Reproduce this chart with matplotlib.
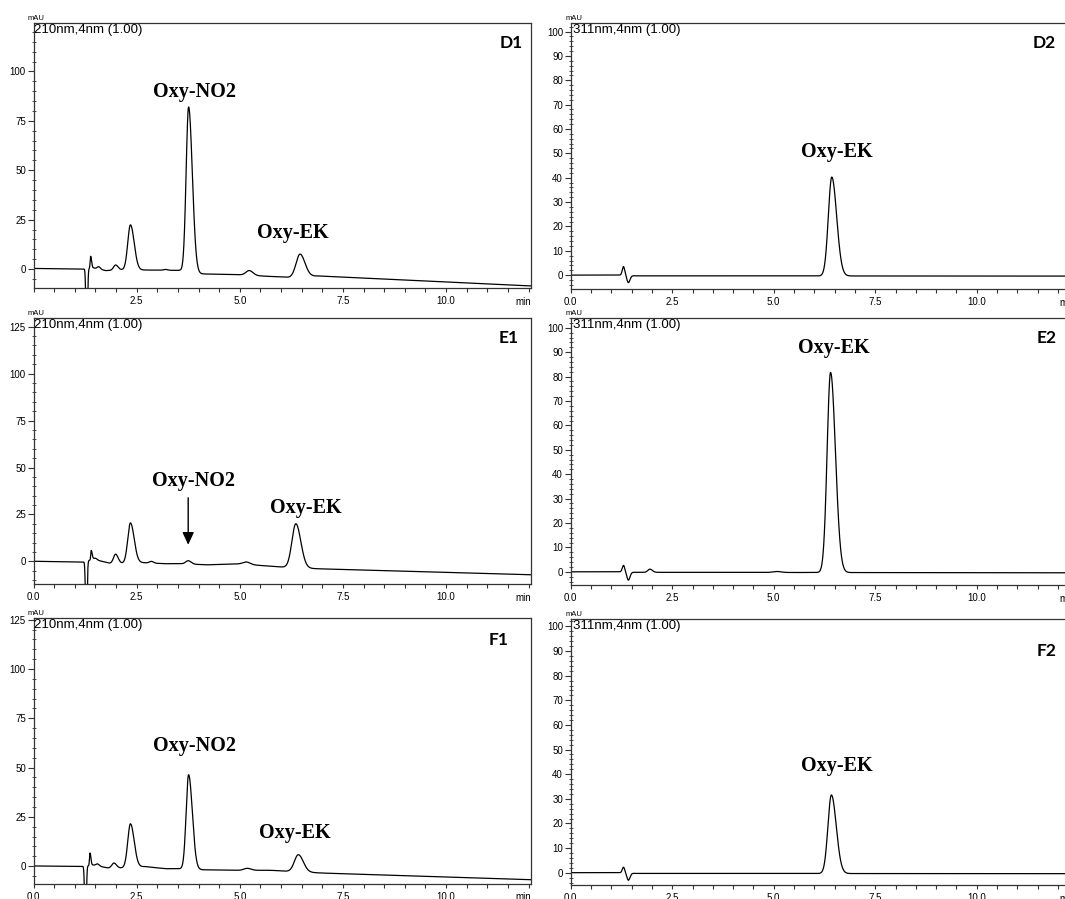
import numpy as np
import matplotlib
matplotlib.use("Agg")
import matplotlib.pyplot as plt
from matplotlib.ticker import MultipleLocator, FuncFormatter
from matplotlib.transforms import offset_copy

# ---------------- chromatogram data ----------------
# Each trace = piecewise baseline (time, mAU) + peak table
# (retention time min, height above baseline mAU, left / right width min)

# D1 : 210 nm
d1_base_t = [0.0, 1.20, 1.45, 1.75, 2.15, 2.70, 3.55, 3.95, 5.00, 5.60, 6.20, 6.90, 12.10]
d1_base_v = [0.3, 0.0, 0.6, -0.8, -0.4, -0.5, -0.7, -2.4, -2.9, -3.6, -4.2, -3.5, -8.6]
d1_peak_t = [1.29, 1.385, 1.58, 1.99, 2.35, 3.20, 3.76, 5.23, 6.46]
d1_peak_h = [-40.0, 6.0, 1.2, 2.6, 22.8, 0.4, 83.6, 2.4, 11.5]
d1_peak_sl = [0.018, 0.012, 0.035, 0.05, 0.065, 0.05, 0.06, 0.08, 0.095]
d1_peak_sr = [0.018, 0.022, 0.04, 0.06, 0.09, 0.05, 0.09, 0.09, 0.12]

# E1 : 210 nm
e1_base_t = [0.0, 1.20, 1.45, 1.84, 2.20, 2.60, 3.20, 3.60, 4.20, 5.00, 5.60, 6.05, 6.90, 12.10]
e1_base_v = [0.1, -0.3, 1.2, -0.9, -0.9, -0.6, -1.2, -1.2, -1.8, -1.3, -2.3, -3.0, -3.9, -7.1]
e1_peak_t = [1.28, 1.40, 1.50, 1.99, 2.35, 2.86, 3.75, 5.16, 6.36]
e1_peak_h = [-40.0, 5.0, 0.8, 4.8, 21.3, 0.9, 1.75, 1.3, 23.4]
e1_peak_sl = [0.018, 0.012, 0.035, 0.05, 0.065, 0.05, 0.06, 0.08, 0.095]
e1_peak_sr = [0.018, 0.022, 0.04, 0.06, 0.09, 0.05, 0.07, 0.09, 0.12]

# F1 : 210 nm
f1_base_t = [0.0, 1.20, 1.45, 1.80, 2.10, 2.70, 3.20, 3.60, 4.00, 4.90, 5.75, 6.15, 7.00, 12.10]
f1_base_v = [0.1, -0.1, 0.6, -0.9, -0.9, -0.2, -1.3, -1.3, -1.8, -2.1, -2.1, -2.6, -3.5, -6.9]
f1_peak_t = [1.26, 1.37, 1.55, 1.95, 2.35, 3.76, 5.18, 6.42]
f1_peak_h = [-40.0, 6.3, 1.0, 2.5, 22.1, 47.9, 1.0, 8.7]
f1_peak_sl = [0.018, 0.012, 0.035, 0.05, 0.065, 0.06, 0.08, 0.095]
f1_peak_sr = [0.018, 0.022, 0.04, 0.06, 0.09, 0.09, 0.09, 0.12]

# D2 : 311 nm
d2_base_t = [0.0, 1.20, 1.60, 12.42]
d2_base_v = [0.0, 0.0, -0.3, -0.4]
d2_peak_t = [1.30, 1.42, 6.43]
d2_peak_h = [3.6, -2.9, 40.6]
d2_peak_sl = [0.03, 0.035, 0.085]
d2_peak_sr = [0.03, 0.04, 0.12]

# E2 : 311 nm
e2_base_t = [0.0, 1.20, 1.60, 12.42]
e2_base_v = [0.0, 0.0, -0.2, -0.4]
e2_peak_t = [1.30, 1.42, 1.95, 5.08, 6.40]
e2_peak_h = [2.7, -3.3, 1.3, 0.4, 82.0]
e2_peak_sl = [0.03, 0.035, 0.05, 0.10, 0.085]
e2_peak_sr = [0.03, 0.04, 0.06, 0.10, 0.12]

# F2 : 311 nm
f2_base_t = [0.0, 1.20, 1.60, 12.42]
f2_base_v = [0.0, 0.0, -0.3, -0.4]
f2_peak_t = [1.30, 1.42, 6.42]
f2_peak_h = [2.3, -2.9, 31.9]
f2_peak_sl = [0.03, 0.035, 0.085]
f2_peak_sr = [0.03, 0.04, 0.12]

# axis ranges (min, mAU)
x_range_210 = (0.0, 12.06)
x_range_311 = (0.0, 12.42)
y_range_d1 = (-9.6, 124.5)
y_range_e1 = (-12.0, 129.6)
y_range_f1 = (-8.8, 125.9)
y_range_d2 = (-5.7, 103.5)
y_range_e2 = (-5.4, 104.0)
y_range_f2 = (-5.0, 103.0)

# peak annotations: (text, time, mAU)
d1_labels = [("Oxy-NO2", 3.91, 87.0), ("Oxy-EK", 6.29, 15.8)]
e1_labels = [("Oxy-NO2", 3.88, 40.1), ("Oxy-EK", 6.60, 25.6)]
f1_labels = [("Oxy-NO2", 3.91, 58.3), ("Oxy-EK", 6.33, 14.1)]
d2_labels = [("Oxy-EK", 6.56, 48.6)]
e2_labels = [("Oxy-EK", 6.49, 89.7)]
f2_labels = [("Oxy-EK", 6.56, 41.3)]

# arrow in E1 pointing at the residual Oxy-NO2 signal
e1_arrow_from = (3.75, 33.9)
e1_arrow_to = (3.75, 8.9)


def build_trace(t, base_t, base_v, pk_t, pk_h, pk_sl, pk_sr):
    y = np.interp(t, base_t, base_v)
    for t0, h, sl, sr in zip(pk_t, pk_h, pk_sl, pk_sr):
        s = np.where(t < t0, sl, sr)
        y = y + h * np.exp(-0.5 * ((t - t0) / s) ** 2)
    return y


W, H = 1065, 899
fig = plt.figure(figsize=(W / 100, H / 100), dpi=100)


def rect(l, r, t, b):
    return [l / W, 1 - b / H, (r - l) / W, (b - t) / H]


panels = [
    dict(name="D1", wl="210nm,4nm (1.00)", box=(33.5, 531, 23, 288),
         base=(d1_base_t, d1_base_v), peaks=(d1_peak_t, d1_peak_h, d1_peak_sl, d1_peak_sr),
         xr=x_range_210, yr=y_range_d1, ymaj=25, ymin=5, labels=d1_labels,
         tag_off=(-8, -25.3), text_dx=1, show_zero=False),
    dict(name="E1", wl="210nm,4nm (1.00)", box=(33.5, 531, 318, 584),
         base=(e1_base_t, e1_base_v), peaks=(e1_peak_t, e1_peak_h, e1_peak_sl, e1_peak_sr),
         xr=x_range_210, yr=y_range_e1, ymaj=25, ymin=5, labels=e1_labels,
         tag_off=(-12, -25), text_dx=1, show_zero=True),
    dict(name="F1", wl="210nm,4nm (1.00)", box=(33.5, 531, 618, 883.5),
         base=(f1_base_t, f1_base_v), peaks=(f1_peak_t, f1_peak_h, f1_peak_sl, f1_peak_sr),
         xr=x_range_210, yr=y_range_f1, ymaj=25, ymin=5, labels=f1_labels,
         tag_off=(-22, -27), text_dx=1, show_zero=True),
    dict(name="D2", wl="311nm,4nm (1.00)", box=(570.7, 1075, 23, 289),
         base=(d2_base_t, d2_base_v), peaks=(d2_peak_t, d2_peak_h, d2_peak_sl, d2_peak_sr),
         xr=x_range_311, yr=y_range_d2, ymaj=10, ymin=2, labels=d2_labels,
         tag_off=(-19, -24.7), text_dx=2, show_zero=True),
    dict(name="E2", wl="311nm,4nm (1.00)", box=(570.7, 1075, 318, 585),
         base=(e2_base_t, e2_base_v), peaks=(e2_peak_t, e2_peak_h, e2_peak_sl, e2_peak_sr),
         xr=x_range_311, yr=y_range_e2, ymaj=10, ymin=2, labels=e2_labels,
         tag_off=(-18, -25), text_dx=2, show_zero=True),
    dict(name="F2", wl="311nm,4nm (1.00)", box=(570.7, 1075, 619, 885),
         base=(f2_base_t, f2_base_v), peaks=(f2_peak_t, f2_peak_h, f2_peak_sl, f2_peak_sr),
         xr=x_range_311, yr=y_range_f2, ymaj=10, ymin=2, labels=f2_labels,
         tag_off=(-19, -37), text_dx=2, show_zero=True),
]

sans = "Liberation Sans"
spine_col = "#333333"

axes = {}
for p in panels:
    ax = fig.add_axes(rect(*p["box"]))
    axes[p["name"]] = ax
    t = np.linspace(p["xr"][0], p["xr"][1], 6000)
    y = build_trace(t, *p["base"], *p["peaks"])
    ax.plot(t, y, color="black", lw=0.9)
    ax.set_xlim(*p["xr"])
    ax.set_ylim(*p["yr"])

    for s in ax.spines.values():
        s.set_color(spine_col)
        s.set_linewidth(0.9)

    ax.xaxis.set_major_locator(MultipleLocator(2.5))
    ax.xaxis.set_minor_locator(MultipleLocator(0.5))
    show_zero = p["show_zero"]
    ax.xaxis.set_major_formatter(FuncFormatter(
        lambda v, pos, z=show_zero: "" if (abs(v) < 1e-9 and not z) else f"{v:.1f}"))
    ax.yaxis.set_major_locator(MultipleLocator(p["ymaj"]))
    ax.yaxis.set_minor_locator(MultipleLocator(p["ymin"]))
    ax.yaxis.set_major_formatter(FuncFormatter(lambda v, pos: f"{v:.0f}"))

    ax.tick_params(axis="x", which="both", direction="out", length=3, width=0.8,
                   color=spine_col, pad=3, labelsize=7)
    ax.tick_params(axis="y", which="major", direction="out", length=4, width=0.8,
                   color=spine_col, pad=1.5, labelsize=7)
    ax.tick_params(axis="y", which="minor", direction="inout", length=2.5, width=0.6,
                   color=spine_col)
    for lab in ax.get_xticklabels() + ax.get_yticklabels():
        lab.set_fontfamily(sans)

    # unit labels
    ax.text(0, 1, "mAU", transform=offset_copy(ax.transAxes, fig, x=-5.5, y=3, units="dots"),
            ha="left", va="baseline", fontsize=5.5, family=sans)
    ax.text(1, 0, "min", transform=offset_copy(ax.transAxes, fig, x=0, y=-17, units="dots"),
            ha="right", va="baseline", fontsize=7, family=sans)
    # detector channel
    ax.text(0, 1, p["wl"], transform=offset_copy(ax.transAxes, fig, x=p["text_dx"], y=-10, units="dots"),
            ha="left", va="baseline", fontsize=9.5, family=sans)
    # panel tag
    ax.text(1, 1, p["name"], transform=offset_copy(ax.transAxes, fig, x=p["tag_off"][0],
                                                   y=p["tag_off"][1], units="dots"),
            ha="right", va="baseline", fontsize=12.5, family="Lato", fontweight="bold")
    # peak names
    for txt, tx, ty in p["labels"]:
        ax.text(tx, ty, txt, ha="center", va="baseline", fontsize=14.5,
                family="Liberation Serif", fontweight="bold")

axes["E1"].annotate("", xy=e1_arrow_to, xytext=e1_arrow_from,
                    arrowprops=dict(arrowstyle="-|>,head_length=0.75,head_width=0.35",
                                    mutation_scale=10, color="black", lw=1.0,
                                    shrinkA=0, shrinkB=0))

fig.savefig("out.png", dpi=100)
